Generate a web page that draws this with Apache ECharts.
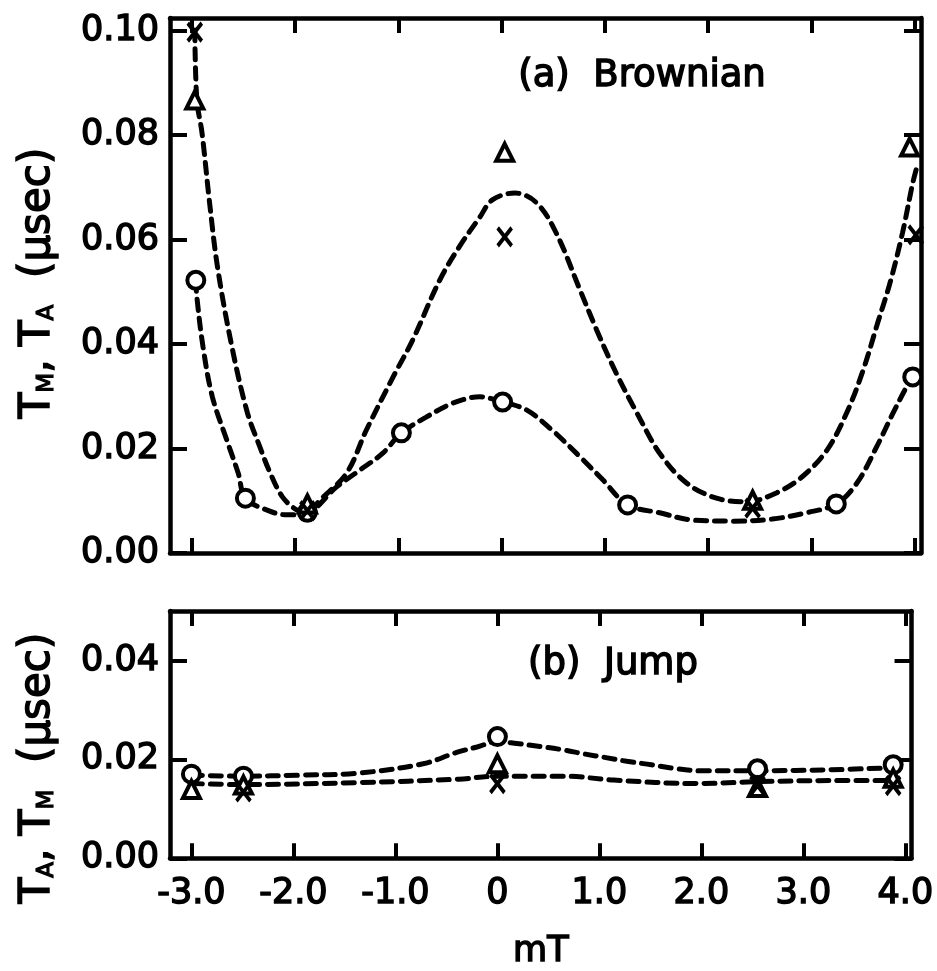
<!DOCTYPE html>
<html><head><meta charset="utf-8">
<script src="https://cdn.jsdelivr.net/npm/echarts@6/dist/echarts.min.js"></script>
<style>html,body{margin:0;padding:0;background:#fff}#c{width:937px;height:971px}</style>
</head><body><div id="c"></div>
<script>
// ---------- tick values / labels ----------
const xTickValues = [-3, -2, -1, 0, 1, 2, 3, 4];
const xTickLabels = ['-3.0', '-2.0', '-1.0', '0', '1.0', '2.0', '3.0', '4.0'];
const yTopTickValues = [0, 0.02, 0.04, 0.06, 0.08, 0.10];
const yBottomTickValues = [0, 0.02, 0.04];
const xAxisName = 'mT';
const titleA = '(a)  Brownian';
const titleB = '(b)  Jump';
const yNameTop = 'T{s|M}, T{s|A}  (μsec)';
const yNameBottom = 'T{s|A}, T{s|M}  (μsec)';

// ---------- (a) Brownian: measured points ----------
const brownCircles = [[-2.96,0.0522],[-2.48,0.0105],[-1.88,0.0078],[-0.97,0.0230],[0.01,0.0289],[1.22,0.0092],[3.24,0.0094],[3.98,0.0337]];
const brownTriangles = [[-2.97,0.0867],[-1.88,0.0094],[0.03,0.0767],[2.43,0.0101],[3.95,0.0777]];
const brownCrosses = [[-2.97,0.0997],[-1.88,0.0081],[0.03,0.0605],[2.43,0.0086],[4.01,0.0609]];

// (a) dashed guide curves
const brownCurveUpper = [[-2.97,0.1001],[-2.95,0.0867],[-2.90,0.0804],[-2.83,0.0676],[-2.75,0.0547],[-2.61,0.0394],[-2.46,0.0268],[-2.34,0.0203],[-2.24,0.0153],[-2.12,0.0107],[-1.98,0.0082],[-1.88,0.0077],[-1.76,0.0101],[-1.50,0.0153],[-1.31,0.0235],[-1.05,0.0337],[-0.86,0.0408],[-0.60,0.0522],[-0.41,0.0586],[-0.21,0.0643],[-0.09,0.0676],[0.13,0.0689],[0.34,0.0670],[0.53,0.0612],[0.76,0.0503],[0.92,0.0427],[1.11,0.0344],[1.31,0.0268],[1.53,0.0191],[1.79,0.0134],[2.08,0.0105],[2.37,0.0098],[2.66,0.0115],[2.91,0.0146],[3.15,0.0197],[3.34,0.0268],[3.50,0.0350],[3.64,0.0440],[3.76,0.0517],[3.88,0.0612],[3.98,0.0708],[4.03,0.0746]];
const brownCurveLower = [[-2.96,0.0522],[-2.95,0.0490],[-2.89,0.0394],[-2.80,0.0299],[-2.66,0.0216],[-2.55,0.0153],[-2.48,0.0105],[-2.27,0.0082],[-2.08,0.0073],[-1.88,0.0077],[-1.60,0.0126],[-1.37,0.0159],[-1.15,0.0191],[-0.97,0.0230],[-0.73,0.0260],[-0.47,0.0287],[-0.21,0.0299],[0.01,0.0289],[0.24,0.0274],[0.49,0.0235],[0.76,0.0184],[0.98,0.0140],[1.22,0.0092],[1.53,0.0077],[1.85,0.0063],[2.24,0.0061],[2.62,0.0065],[2.95,0.0077],[3.24,0.0094],[3.44,0.0134],[3.63,0.0203],[3.79,0.0268],[3.92,0.0318],[3.98,0.0337]];

// ---------- (b) Jump: measured points ----------
const jumpCircles = [[-3.0,0.0170],[-2.49,0.0166],[0.0,0.0246],[2.55,0.0181],[3.88,0.0189]];
const jumpTriangles = [[-3.0,0.0139],[-2.49,0.0148],[0.0,0.0191],[2.55,0.0143],[3.88,0.0162]];
const jumpCrosses = [[-2.49,0.0134],[0.0,0.0151],[2.55,0.0147],[3.88,0.0147]];

// (b) dashed guide curves
const jumpCurveUpper = [[-3.0,0.0168],[-2.49,0.0166],[-1.95,0.0168],[-1.37,0.0172],[-0.73,0.0191],[-0.40,0.0214],[-0.20,0.0225],[0.0,0.0236],[0.19,0.0232],[0.42,0.0226],[0.65,0.0219],[0.85,0.0211],[1.05,0.0204],[1.27,0.0196],[1.51,0.0189],[1.72,0.0182],[1.99,0.0177],[2.57,0.0177],[3.27,0.0179],[3.87,0.0183]];
const jumpCurveLower = [[-3.0,0.0151],[-2.49,0.0149],[-1.37,0.0153],[-0.38,0.0160],[0.0,0.0166],[0.66,0.0166],[1.14,0.0158],[1.95,0.0151],[2.57,0.0155],[3.27,0.0157],[3.87,0.0157]];

// ---------- styling ----------
const FONT = 'DejaVu Sans';
const INK = '#000';
const AXW = 4.5;
const X_MIN = -3.21, X_MAX = 4.06;

function xLabel(v) {
  for (let i = 0; i < xTickValues.length; i++) if (Math.abs(xTickValues[i] - v) < 1e-6) return xTickLabels[i];
  return '';
}
function makeX(gridIndex, position, showLabels) {
  return {
    type: 'value', gridIndex, position, min: X_MIN, max: X_MAX,
    axisLine: { show: true, onZero: false, lineStyle: { color: INK, width: AXW } },
    axisTick: { show: true, inside: true, length: 15, customValues: xTickValues, lineStyle: { color: INK, width: 4 } },
    axisLabel: showLabels ? {
      show: true, customValues: xTickValues, margin: 18, formatter: xLabel,
      fontFamily: FONT, fontSize: 35, color: INK, textBorderColor: INK, textBorderWidth: 1.5
    } : { show: false },
    splitLine: { show: false },
    name: showLabels ? xAxisName : '', nameLocation: 'middle', nameGap: 76,
    nameTextStyle: { fontFamily: FONT, fontSize: 35, color: INK, textBorderColor: INK, textBorderWidth: 1.5 }
  };
}
function makeY(gridIndex, position, max, ticks, showLabels) {
  return {
    type: 'value', gridIndex, position, min: 0, max,
    axisLine: { show: true, onZero: false, lineStyle: { color: INK, width: AXW } },
    axisTick: { show: true, inside: true, length: 17, customValues: ticks, lineStyle: { color: INK, width: 4 } },
    axisLabel: showLabels ? {
      show: true, customValues: ticks, margin: 11, formatter: v => v.toFixed(2),
      fontFamily: FONT, fontSize: 35, color: INK, textBorderColor: INK, textBorderWidth: 1.5
    } : { show: false },
    splitLine: { show: false }
  };
}
const dashed = { color: INK, width: 5, type: [11, 8], cap: 'round' };
function curve(data, xi, yi) {
  return { type: 'line', data, xAxisIndex: xi, yAxisIndex: yi, smooth: 0.35, symbol: 'none', lineStyle: dashed, z: 2, silent: true };
}
function circles(data, xi, yi) {
  return { type: 'scatter', data, xAxisIndex: xi, yAxisIndex: yi, symbol: 'circle', symbolSize: 17,
    itemStyle: { color: '#fff', borderColor: INK, borderWidth: 4, opacity: 1 }, z: 5 };
}
function triangles(data, xi, yi) {
  return { type: 'scatter', data, xAxisIndex: xi, yAxisIndex: yi, symbol: 'triangle', symbolSize: 17,
    itemStyle: { color: '#fff', borderColor: INK, borderWidth: 4, opacity: 1 }, z: 5 };
}
function crosses(data, xi, yi) {
  return { type: 'scatter', data, xAxisIndex: xi, yAxisIndex: yi, symbol: 'path://M0 0L10 12M10 0L0 12', symbolSize: [14, 18],
    itemStyle: { color: 'rgba(0,0,0,0)', borderColor: INK, borderWidth: 4, opacity: 1 }, z: 5 };
}
const nameStyle = {
  fontFamily: FONT, fontSize: 42, fill: INK, stroke: INK, lineWidth: 1.5, align: 'center', verticalAlign: 'middle',
  rich: { s: { fontFamily: FONT, fontSize: 23, verticalAlign: 'bottom', fill: INK, stroke: INK, lineWidth: 1.2 } }
};
const titleStyle = { fontFamily: FONT, fontSize: 37, fill: INK, stroke: INK, lineWidth: 1.5, align: 'center', verticalAlign: 'middle' };

const option = {
  backgroundColor: '#fff',
  animation: false,
  grid: [
    { left: 170, top: 18, width: 751, height: 535 },
    { left: 170, top: 611, width: 751, height: 261 }
  ],
  xAxis: [
    makeX(0, 'bottom', false), makeX(0, 'top', false),
    makeX(1, 'bottom', true), makeX(1, 'top', false)
  ],
  yAxis: [
    makeY(0, 'left', 0.1024, yTopTickValues, true), makeY(0, 'right', 0.1024, yTopTickValues, false),
    makeY(1, 'left', 0.05, yBottomTickValues, true), makeY(1, 'right', 0.05, yBottomTickValues, false)
  ],
  graphic: [
    { type: 'text', x: 642, y: 76, style: Object.assign({ text: titleA }, titleStyle) },
    { type: 'text', x: 613, y: 664, style: Object.assign({ text: titleB }, titleStyle) },
    { type: 'text', x: 38, y: 283, rotation: Math.PI / 2, style: Object.assign({ text: yNameTop }, nameStyle) },
    { type: 'text', x: 38, y: 768, rotation: Math.PI / 2, style: Object.assign({ text: yNameBottom }, nameStyle) }
  ],
  series: [
    curve(brownCurveUpper, 0, 0), curve(brownCurveLower, 0, 0),
    circles(brownCircles, 0, 0), triangles(brownTriangles, 0, 0), crosses(brownCrosses, 0, 0),
    curve(jumpCurveUpper, 2, 2), curve(jumpCurveLower, 2, 2),
    circles(jumpCircles, 2, 2), triangles(jumpTriangles, 2, 2), crosses(jumpCrosses, 2, 2)
  ]
};
const chart = echarts.init(document.getElementById('c'), null, { renderer: 'canvas' });
chart.setOption(option);
</script>
</body></html>
